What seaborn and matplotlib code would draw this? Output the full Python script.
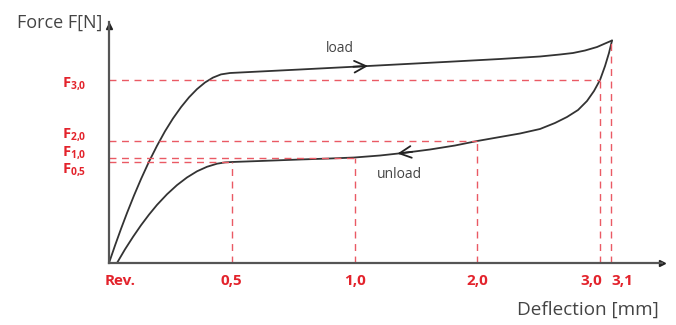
# Load / unload hysteresis curve (force vs. deflection), schematic
import numpy as np
import pandas as pd
import matplotlib
matplotlib.use("Agg")
import matplotlib.pyplot as plt
import matplotlib.transforms as mtransforms
import seaborn as sns

# ---------------------------------------------------------
# Data (schematic axis: ticks are evenly spaced, not linear in mm)
# ---------------------------------------------------------
tick_pos = [0, 1, 2, 3, 4, 4.09]
tick_labels = ["Rev.", "0,5", "1,0", "2,0", "3,0", "3,1"]

force_levels = [1.83, 1.22, 1.055, 1.01]
force_pos = [4, 3, 2, 1]          # deflection tick where each level is read
force_labels = [r"$\mathbf{F_{3{,}0}}$", r"$\mathbf{F_{2{,}0}}$",
                r"$\mathbf{F_{1{,}0}}$", r"$\mathbf{F_{0{,}5}}$"]
peak_force = 2.225

load_x = [0.0, 0.049, 0.098, 0.147, 0.204, 0.261, 0.326, 0.391, 0.456, 0.521,
          0.587, 0.652, 0.717, 0.782, 0.847, 0.912, 0.986, 1.149, 1.556, 2.11,
          2.778, 3.185, 3.511, 3.674, 3.78, 3.878, 3.976, 4.041, 4.098]
load_y = [0.0, 0.175, 0.342, 0.501, 0.676, 0.84, 1.014, 1.172, 1.317, 1.445,
          1.559, 1.657, 1.739, 1.805, 1.854, 1.886, 1.90, 1.91, 1.935, 1.97,
          2.013, 2.04, 2.065, 2.085, 2.10, 2.125, 2.16, 2.195, 2.225]

unload_x = [4.098, 4.073, 4.041, 4.0, 3.951, 3.894, 3.821, 3.731, 3.633, 3.511,
            3.348, 3.185, 3.0, 2.819, 2.615, 2.395, 2.208, 2.0, 1.8, 1.556,
            1.23, 1.0, 0.945, 0.88, 0.798, 0.717, 0.635, 0.554, 0.473, 0.391,
            0.326, 0.261, 0.196, 0.13, 0.065]
unload_y = [2.225, 2.10, 1.97, 1.83, 1.72, 1.62, 1.53, 1.46, 1.40, 1.34,
            1.295, 1.26, 1.22, 1.175, 1.135, 1.10, 1.075, 1.055, 1.045, 1.035,
            1.02, 1.01, 1.006, 0.993, 0.962, 0.917, 0.855, 0.779, 0.688, 0.581,
            0.484, 0.378, 0.262, 0.136, 0.0]

load = pd.DataFrame({"deflection": load_x, "force": load_y, "branch": "load"})
unload = pd.DataFrame({"deflection": unload_x, "force": unload_y, "branch": "unload"})
df = pd.concat([load, unload], ignore_index=True)

# ---------------------------------------------------------
# Style
# ---------------------------------------------------------
sns.set_theme(style="white")
plt.rcParams["font.family"] = ["Open Sans", "DejaVu Sans"]
plt.rcParams["mathtext.fontset"] = "custom"
plt.rcParams["mathtext.rm"] = "Open Sans"
plt.rcParams["mathtext.bf"] = "Open Sans:bold"

red = "#e3232c"
dash_red = "#ea5a64"
axis_grey = "#555555"
curve_grey = "#333333"

fig = plt.figure(figsize=(6.76, 3.25), dpi=100)
ax = fig.add_axes([109 / 676, 62 / 325, 553 / 676, 241 / 325])

sns.lineplot(data=df, x="deflection", y="force", units="branch", estimator=None,
             sort=False, color=curve_grey, linewidth=1.3, ax=ax)

# dashed helper lines
for lvl, xp in zip(force_levels, force_pos):
    ax.plot([0, tick_pos[xp]], [lvl, lvl], color=dash_red, lw=1, dashes=(5, 4))
    ax.plot([tick_pos[xp], tick_pos[xp]], [0, lvl], color=dash_red, lw=1, dashes=(5, 4))
ax.plot([tick_pos[5], tick_pos[5]], [0, peak_force], color=dash_red, lw=1, dashes=(5, 4))

# direction arrows on the curves
def chevron(xs, ys, x_at, direction):
    order = np.argsort(xs)
    xa = np.array(xs)[order]
    ya = np.array(ys)[order]
    y0 = np.interp(x_at, xa, ya)
    x1 = x_at - 0.12 * direction
    y1 = np.interp(x1, xa, ya)
    ax.annotate("", xy=(x_at, y0), xytext=(x1, y1),
                arrowprops=dict(arrowstyle="->,head_length=0.7,head_width=0.35",
                                color="#222222", lw=1.3, shrinkA=0, shrinkB=0))

chevron(load_x, load_y, 2.11, 1)
chevron(unload_x, unload_y, 2.35, -1)

ax.text(1.88, 2.15, "load", fontsize=10, color="#444444", ha="center", va="center")
ax.text(2.37, 0.89, "unload", fontsize=10, color="#444444", ha="center", va="center")

# axes
ax.set_xlim(0, 4.505)
ax.set_ylim(0, 2.41)
sns.despine(ax=ax)
for side in ["left", "bottom"]:
    ax.spines[side].set_color(axis_grey)
    ax.spines[side].set_linewidth(1.6)
ax.plot(1, 0, ">", color="#222222", ms=5, transform=ax.get_yaxis_transform(), clip_on=False)
ax.plot(0, 0.985, "^", color="#222222", ms=5, transform=ax.get_xaxis_transform(), clip_on=False)

ax.set_xticks(tick_pos)
ax.set_xticklabels(tick_labels)
ax.set_yticks(force_levels)
ax.set_yticklabels(force_labels)
ax.tick_params(axis="x", length=0, pad=8, labelsize=11, labelcolor=red)
ax.tick_params(axis="y", length=0, pad=16, labelsize=10.5, labelcolor=red)
xlabs = ax.get_xticklabels()
for lab in xlabs:
    lab.set_fontweight("bold")
xlabs[0].set_horizontalalignment("left")
xlabs[0].set_transform(xlabs[0].get_transform() +
                       mtransforms.ScaledTranslation(-0.04, 0, fig.dpi_scale_trans))
xlabs[4].set_horizontalalignment("right")
xlabs[4].set_transform(xlabs[4].get_transform() +
                       mtransforms.ScaledTranslation(0.02, 0, fig.dpi_scale_trans))
xlabs[5].set_horizontalalignment("left")

# spread the crowded force labels apart (as in the original drawing)
y_shift = [-1, 9, 8, -5]
for lab, dy in zip(ax.get_yticklabels(), y_shift):
    lab.set_transform(lab.get_transform() +
                      mtransforms.ScaledTranslation(0, dy / 100, fig.dpi_scale_trans))

ax.set_xlabel("")
ax.set_ylabel("")
fig.text(102 / 676, 1 - 23 / 325, "Force F[N]", fontsize=13, color="#444444",
         ha="right", va="center")
fig.text(659 / 676, 1 - 310 / 325, "Deflection [mm]", fontsize=13.6, color="#444444",
         ha="right", va="center")

fig.savefig("out.png", dpi=100)
